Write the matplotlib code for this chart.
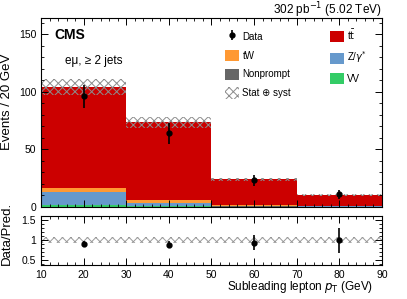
import numpy as np
import matplotlib
matplotlib.use("Agg")
import matplotlib.pyplot as plt
from matplotlib.patches import Patch
from matplotlib.container import ErrorbarContainer
from matplotlib.legend_handler import HandlerErrorbar
from matplotlib.ticker import MultipleLocator

plt.rcParams['font.family'] = ['Liberation Sans', 'DejaVu Sans']
plt.rcParams['hatch.linewidth'] = 0.7

# Data
bin_edges = [10, 30, 50, 70, 90]
vv = [1.3, 1.0, 0.4, 0.2]
nonprompt = [0.2, 0.2, 0.1, 0.1]
dy = [11.2, 2.3, 0.3, 0.2]
tw = [4.0, 2.5, 1.2, 0.6]
ttbar = [87.3, 67.4, 22.0, 9.3]
syst_unc = [7.2, 4.5, 1.5, 1.0]
data_y = [96, 64, 23, 11]
data_err = [10, 9, 5, 4]
ratio_y = [0.91, 0.89, 0.94, 1.00]
ratio_err = [0.07, 0.085, 0.19, 0.31]
ratio_band = [0.07, 0.07, 0.07, 0.07]

colors = {'tt': '#cc0000', 'tw': '#ff9933', 'dy': '#6699cc', 'np': '#666666', 'vv': '#33cc66'}

edges = np.array(bin_edges, dtype=float)
centers = 0.5 * (edges[:-1] + edges[1:])
widths = np.diff(edges)

fig = plt.figure(figsize=(4.07, 2.99), dpi=100)
ax = fig.add_axes([0.1007, 0.3077, 0.8379, 0.6321])
axr = fig.add_axes([0.1007, 0.1137, 0.8379, 0.1639])

bottom = np.zeros(4)
for vals, key in [(vv, 'vv'), (nonprompt, 'np'), (dy, 'dy'), (tw, 'tw'), (ttbar, 'tt')]:
    v = np.array(vals)
    ax.bar(centers, v, width=widths, bottom=bottom, color=colors[key], linewidth=0, align='center')
    bottom = bottom + v
total = bottom
unc = np.array(syst_unc)
ax.bar(centers, 2 * unc, width=widths, bottom=total - unc, color='none', edgecolor='#8c8c8c',
       hatch='xxxx', linewidth=0)
data_eb = ax.errorbar(centers, data_y, yerr=data_err, fmt='o', color='black', markersize=3.5,
                      elinewidth=1.2, capsize=0)

ax.set_xlim(10, 90)
ax.set_ylim(0, 164)
ax.set_xticklabels([])
ax.xaxis.set_major_locator(MultipleLocator(10))
ax.xaxis.set_minor_locator(MultipleLocator(2))
ax.yaxis.set_major_locator(MultipleLocator(50))
ax.yaxis.set_minor_locator(MultipleLocator(10))
for a in (ax, axr):
    a.tick_params(which='both', direction='in', top=True, right=True, labelsize=7.5)
    a.tick_params(which='major', length=5, width=0.7)
    a.tick_params(which='minor', length=2.5, width=0.6)
    for s in a.spines.values():
        s.set_linewidth(0.8)
ax.set_ylabel('Events / 20 GeV', fontsize=9.5)
ax.yaxis.set_label_coords(-0.083, 0.555)

ax.text(0.04, 0.91, 'CMS', transform=ax.transAxes, fontsize=10, fontweight='bold', va='center')
ax.text(0.07, 0.77, 'e\u03bc, \u2265 2 jets', transform=ax.transAxes, fontsize=8.5, va='center')
ax.text(1.0, 1.022, '302 pb$^{-1}$ (5.02 TeV)', transform=ax.transAxes, fontsize=8.5,
        ha='right', va='baseline')

handles = [
    data_eb,
    Patch(facecolor=colors['tw'], edgecolor='none'),
    Patch(facecolor=colors['np'], edgecolor='none'),
    Patch(facecolor='none', edgecolor='#8c8c8c', hatch='xxxx', linewidth=0),
    Patch(facecolor=colors['tt'], edgecolor='none'),
    Patch(facecolor=colors['dy'], edgecolor='none'),
    Patch(facecolor=colors['vv'], edgecolor='none'),
]
labels = ['Data', 'tW', 'Nonprompt', 'Stat \u2295 syst', r't$\bar{\rm t}$', r'Z/$\gamma^{*}$', 'VV']
leg = ax.legend(handles, labels, ncol=2, loc='upper left', bbox_to_anchor=(0.515, 0.995),
                frameon=False, fontsize=7, handlelength=1.4, handleheight=1.4,
                columnspacing=4.0, labelspacing=0.78, handletextpad=0.35,
                handler_map={ErrorbarContainer: HandlerErrorbar(xerr_size=0, yerr_size=0.5)})

# ratio
rb = np.array(ratio_band)
axr.bar(centers, 2 * rb, width=widths, bottom=1 - rb, color='none', edgecolor='#999999',
        hatch='xxxx', linewidth=0)
axr.errorbar(centers, ratio_y, yerr=ratio_err, fmt='o', color='black', markersize=3.5,
             elinewidth=1.2, capsize=0)
axr.set_xlim(10, 90)
axr.set_ylim(0.38, 1.6)
axr.xaxis.set_major_locator(MultipleLocator(10))
axr.xaxis.set_minor_locator(MultipleLocator(2))
axr.set_yticks([0.5, 1, 1.5])
axr.set_yticklabels(['0.5', '1', '1.5'])
axr.yaxis.set_minor_locator(MultipleLocator(0.1))
axr.set_ylabel('Data/Pred.', fontsize=9.5)
axr.yaxis.set_label_coords(-0.083, 0.65)
axr.set_xlabel('Subleading lepton $p_{\\mathrm{T}}$ (GeV)', fontsize=8.5, ha='right')
axr.xaxis.set_label_coords(0.974, -0.28)

fig.savefig('out.png', dpi=100)
